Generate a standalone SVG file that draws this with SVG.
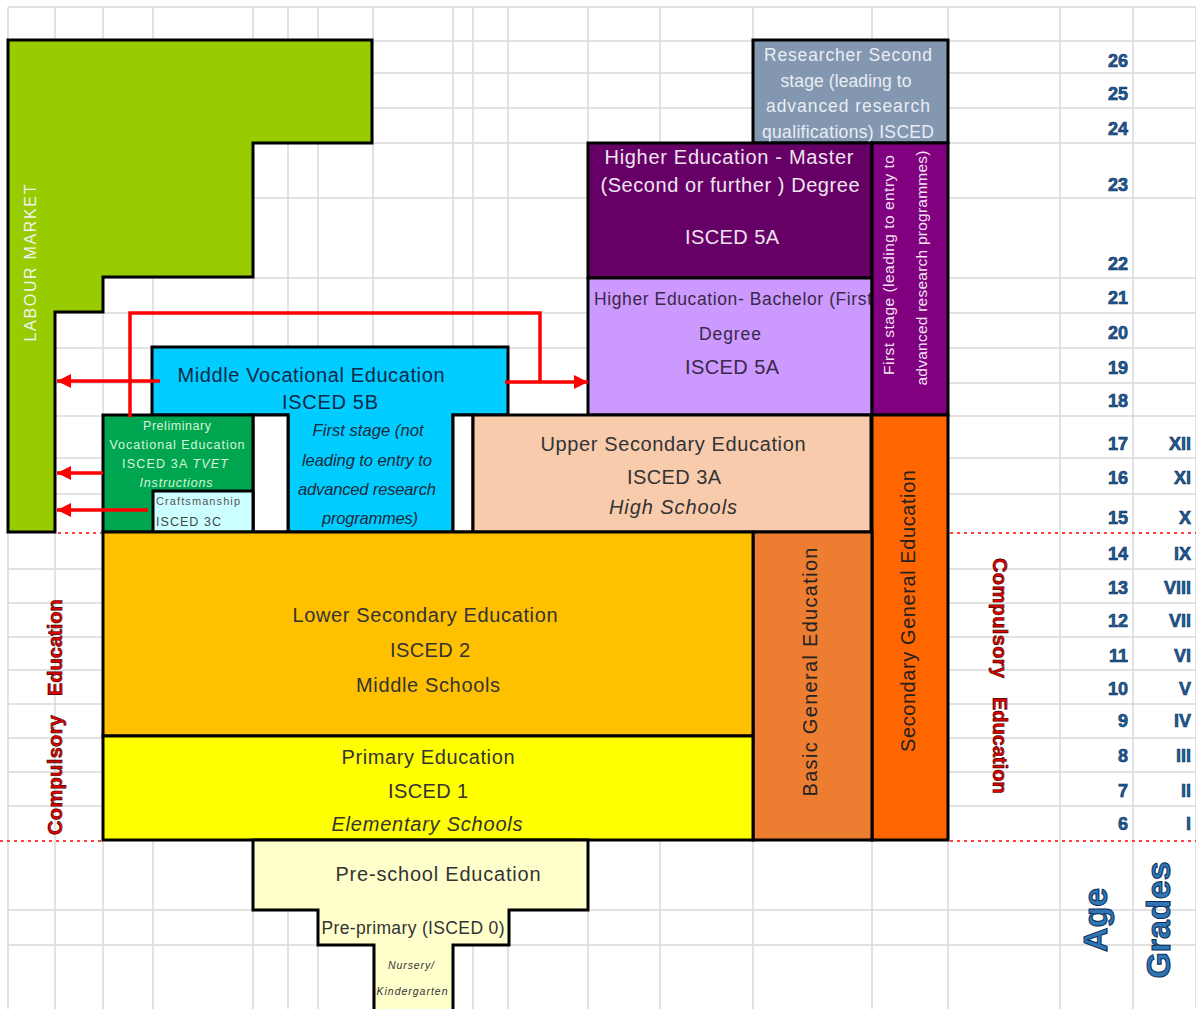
<svg xmlns="http://www.w3.org/2000/svg" width="1196" height="1009" viewBox="0 0 1196 1009">
<style>
.g{stroke:#d9d9d9;stroke-width:1.5}
.bx{stroke:#000;stroke-width:3}
text{font-family:"Liberation Sans",Arial,sans-serif}
.c{text-anchor:middle}
.red{stroke:#ff0000;stroke-width:3.5;fill:none}
.dot{stroke:#ff4040;stroke-width:2;stroke-dasharray:3 4}
.num{font-weight:bold;font-size:18px;fill:#1f5c99;stroke:#0b2d55;stroke-width:0.6;text-anchor:end}
.comp{font-weight:bold;font-size:20px;fill:#e00000;stroke:#400000;stroke-width:0.6}
</style>
<defs>
<marker id="ah" viewBox="0 0 10 10" refX="10" refY="5" markerWidth="16" markerHeight="14" markerUnits="userSpaceOnUse" orient="auto">
<path d="M0,0 L10,5 L0,10 Z" fill="#ff0000"/>
</marker>
<clipPath id="clipR"><rect x="753" y="40" width="195" height="103"/></clipPath>
<clipPath id="clipB"><rect x="588" y="278" width="283" height="137"/></clipPath>
</defs>
<rect width="1196" height="1009" fill="#fff"/>
<g id="grid">
<path class="g" d="M8,7V1009M55,7V1009M103,7V1009M153,7V1009M253,7V1009M288,7V1009M318,7V1009M373,7V1009M453,7V1009M473,7V1009M508,7V1009M588,7V1009M660,7V1009M753,7V1009M872,7V1009M948,7V1009M1060,7V1009M1133,7V1009M1196,7V1009"/>
<path class="g" d="M8,7H1196M8,41H1196M8,73H1196M8,108H1196M8,143H1196M8,198H1196M8,278H1196M8,313H1196M8,348H1196M8,383H1196M8,416H1196M8,458H1196M8,494H1196M8,569H1196M8,603H1196M8,637H1196M8,670H1196M8,704H1196M8,738H1196M8,772H1196M8,806H1196M8,910H1196M8,945H1196"/>
</g>
<g id="labour-market">
<path class="bx" fill="#99cc00" d="M8,40H372V143H253V277H103V312H55V532H8Z"/>
<text transform="translate(36,263) rotate(-90)" class="c" font-size="16" fill="#f2f2f2" textLength="157" lengthAdjust="spacing">LABOUR MARKET</text>
</g>
<g id="researcher">
<rect class="bx" x="753" y="40" width="195" height="103" fill="#8497b0"/>
<g clip-path="url(#clipR)" font-size="17.5" fill="#e8edf5">
<text x="848" y="61" class="c" textLength="168" lengthAdjust="spacing">Researcher Second</text>
<text x="846" y="87" class="c" textLength="131" lengthAdjust="spacing">stage (leading to</text>
<text x="848" y="112" class="c" textLength="164" lengthAdjust="spacing">advanced research</text>
<text x="848" y="138" class="c" textLength="172" lengthAdjust="spacing">qualifications) ISCED</text>
</g>
</g>
<g id="master">
<rect class="bx" x="588" y="143" width="284" height="135" fill="#660066"/>
<text x="729" y="164" class="c" font-size="20" fill="#f0e4f0" textLength="249" lengthAdjust="spacing">Higher Education - Master</text>
<text x="730" y="192" class="c" font-size="20" fill="#f0e4f0" textLength="259" lengthAdjust="spacing">(Second or further ) Degree</text>
<text x="732" y="244" class="c" font-size="20" fill="#f0e4f0" textLength="94" lengthAdjust="spacing">ISCED 5A</text>
</g>
<g id="bachelor">
<rect class="bx" x="588" y="278" width="284" height="137" fill="#cc99ff"/>
<g clip-path="url(#clipB)">
<text x="594" y="305" font-size="17.5" fill="#3a2848" textLength="278" lengthAdjust="spacing">Higher Education- Bachelor (First</text>
</g>
<text x="730" y="340" class="c" font-size="17.5" fill="#3a2848" textLength="62" lengthAdjust="spacing">Degree</text>
<text x="732" y="374" class="c" font-size="20" fill="#3a2848" textLength="94" lengthAdjust="spacing">ISCED 5A</text>
</g>
<g id="first-stage">
<rect class="bx" x="872" y="143" width="76" height="272" fill="#800080"/>
<text transform="translate(894,265) rotate(-90)" class="c" font-size="15.5" fill="#f2e4f2" textLength="220" lengthAdjust="spacing">First stage (leading to entry to</text>
<text transform="translate(927,268) rotate(-90)" class="c" font-size="15.5" fill="#f2e4f2" textLength="235" lengthAdjust="spacing">advanced research programmes)</text>
</g>
<g id="middle-vocational">
<path class="bx" fill="#00ccff" d="M152,347H508V415H453V532H288V415H152Z"/>
<text x="311" y="382" class="c" font-size="20" fill="#0d2a4a" textLength="267" lengthAdjust="spacing">Middle Vocational Education</text>
<text x="330" y="409" class="c" font-size="20" fill="#0d2a4a" textLength="96" lengthAdjust="spacing">ISCED 5B</text>
<g font-size="16.5" font-style="italic" fill="#1a2a3a">
<text x="368" y="436" class="c" textLength="111" lengthAdjust="spacing">First stage (not</text>
<text x="367" y="466" class="c" textLength="130" lengthAdjust="spacing">leading to entry to</text>
<text x="367" y="495" class="c" textLength="138" lengthAdjust="spacing">advanced research</text>
<text x="370" y="524" class="c" textLength="96" lengthAdjust="spacing">programmes)</text>
</g>
</g>
<g id="gap-cells">
<rect class="bx" x="253" y="415" width="35" height="117" fill="#fff"/>
<rect class="bx" x="453" y="415" width="20" height="117" fill="#fff"/>
</g>
<g id="preliminary">
<rect class="bx" x="103" y="415" width="150" height="117" fill="#00a550"/>
<g font-size="12.5" fill="#d8f5d8">
<text x="177" y="430" class="c" textLength="68" lengthAdjust="spacing">Preliminary</text>
<text x="177" y="449" class="c" textLength="135" lengthAdjust="spacing">Vocational Education</text>
<text x="175" y="468" class="c" textLength="106" lengthAdjust="spacing">ISCED 3A <tspan font-style="italic">TVET</tspan></text>
<text x="176" y="487" class="c" font-style="italic" textLength="73" lengthAdjust="spacing">Instructions</text>
</g>
</g>
<g id="craftsmanship">
<rect class="bx" x="153" y="491" width="100" height="41" fill="#ccffff"/>
<text x="156" y="505" font-size="11" fill="#555" textLength="84" lengthAdjust="spacing">Craftsmanship</text>
<text x="156" y="526" font-size="12.5" fill="#444" textLength="65" lengthAdjust="spacing">ISCED 3C</text>
</g>
<g id="upper-secondary">
<rect class="bx" x="473" y="415" width="398" height="117" fill="#f8cbad"/>
<text x="673" y="451" class="c" font-size="20" fill="#333" textLength="265" lengthAdjust="spacing">Upper Secondary Education</text>
<text x="674" y="484" class="c" font-size="20" fill="#333" textLength="94" lengthAdjust="spacing">ISCED 3A</text>
<text x="673" y="514" class="c" font-size="20" font-style="italic" fill="#333" textLength="128" lengthAdjust="spacing">High Schools</text>
</g>
<g id="secondary-general">
<rect class="bx" x="872" y="415" width="76" height="425" fill="#ff6600"/>
<text transform="translate(915,611) rotate(-90)" class="c" font-size="20" fill="#222" textLength="282" lengthAdjust="spacing">Secondary General Education</text>
</g>
<g id="basic-general">
<rect class="bx" x="753" y="532" width="119" height="308" fill="#ed7d31"/>
<text transform="translate(817,672) rotate(-90)" class="c" font-size="20" fill="#222" textLength="249" lengthAdjust="spacing">Basic General Education</text>
</g>
<g id="lower-secondary">
<rect class="bx" x="103" y="532" width="650" height="204" fill="#ffc000"/>
<text x="425" y="622" class="c" font-size="20" fill="#333" textLength="265" lengthAdjust="spacing">Lower Secondary Education</text>
<text x="430" y="657" class="c" font-size="20" fill="#333" textLength="80" lengthAdjust="spacing">ISCED 2</text>
<text x="428" y="692" class="c" font-size="20" fill="#333" textLength="144" lengthAdjust="spacing">Middle Schools</text>
</g>
<g id="primary">
<rect class="bx" x="103" y="736" width="650" height="104" fill="#ffff00"/>
<text x="428" y="764" class="c" font-size="20" fill="#333" textLength="173" lengthAdjust="spacing">Primary Education</text>
<text x="428" y="798" class="c" font-size="20" fill="#333" textLength="80" lengthAdjust="spacing">ISCED 1</text>
<text x="427" y="831" class="c" font-size="20" font-style="italic" fill="#333" textLength="191" lengthAdjust="spacing">Elementary Schools</text>
</g>
<g id="pre-school">
<path class="bx" fill="#ffffcc" d="M253,840H588V910H509V945H453V1012H374V945H318V910H253Z"/>
<text x="438" y="881" class="c" font-size="20" fill="#333" textLength="205" lengthAdjust="spacing">Pre-school Education</text>
<text x="413" y="934" class="c" font-size="17.5" fill="#333" textLength="183" lengthAdjust="spacing">Pre-primary (ISCED 0)</text>
<text x="411" y="969" class="c" font-size="10.5" font-style="italic" fill="#333" textLength="46" lengthAdjust="spacing">Nursery/</text>
<text x="412" y="995" class="c" font-size="10.5" font-style="italic" fill="#333" textLength="71" lengthAdjust="spacing">Kindergarten</text>
</g>
<g id="connectors">
<line class="red" x1="160" y1="381" x2="57" y2="381" marker-end="url(#ah)"/>
<line class="red" x1="103" y1="473" x2="57" y2="473" marker-end="url(#ah)"/>
<line class="red" x1="148" y1="510" x2="57" y2="510" marker-end="url(#ah)"/>
<polyline class="red" points="130,417 130,313 540,313 540,382"/>
<line class="red" x1="505" y1="382" x2="588" y2="382" marker-end="url(#ah)"/>
<path class="dot" d="M58,533H101M950,533H1196M0,841H101M950,841H1196"/>
</g>
<g id="compulsory-left">
<text transform="translate(62,835) rotate(-90)" class="comp" textLength="120" lengthAdjust="spacing">Compulsory</text>
<text transform="translate(62,696) rotate(-90)" class="comp">Education</text>
</g>
<g id="compulsory-right">
<text transform="translate(993,558) rotate(90)" class="comp" textLength="120" lengthAdjust="spacing">Compulsory</text>
<text transform="translate(993,697) rotate(90)" class="comp">Education</text>
</g>
<g id="ages">
<text x="1128" y="67" class="num">26</text>
<text x="1128" y="100" class="num">25</text>
<text x="1128" y="135" class="num">24</text>
<text x="1128" y="191" class="num">23</text>
<text x="1128" y="270" class="num">22</text>
<text x="1128" y="304" class="num">21</text>
<text x="1128" y="339" class="num">20</text>
<text x="1128" y="374" class="num">19</text>
<text x="1128" y="407" class="num">18</text>
<text x="1128" y="450" class="num">17</text>
<text x="1128" y="484" class="num">16</text>
<text x="1128" y="524" class="num">15</text>
<text x="1128" y="560" class="num">14</text>
<text x="1128" y="594" class="num">13</text>
<text x="1128" y="627" class="num">12</text>
<text x="1128" y="662" class="num">11</text>
<text x="1128" y="695" class="num">10</text>
<text x="1128" y="727" class="num">9</text>
<text x="1128" y="762" class="num">8</text>
<text x="1128" y="797" class="num">7</text>
<text x="1128" y="830" class="num">6</text>
</g>
<g id="grades">
<text x="1191" y="450" class="num">XII</text>
<text x="1191" y="484" class="num">XI</text>
<text x="1191" y="524" class="num">X</text>
<text x="1191" y="560" class="num">IX</text>
<text x="1191" y="594" class="num">VIII</text>
<text x="1191" y="627" class="num">VII</text>
<text x="1191" y="662" class="num">VI</text>
<text x="1191" y="695" class="num">V</text>
<text x="1191" y="727" class="num">IV</text>
<text x="1191" y="762" class="num">III</text>
<text x="1191" y="797" class="num">II</text>
<text x="1191" y="830" class="num">I</text>
</g>
<g id="axis-labels">
<text transform="translate(1107,920) rotate(-90)" class="c" font-size="34" font-weight="bold" fill="#2e75b6" stroke="#0b2d55" stroke-width="1">Age</text>
<text transform="translate(1170,920) rotate(-90)" class="c" font-size="34" font-weight="bold" fill="#2e75b6" stroke="#0b2d55" stroke-width="1">Grades</text>
</g>
</svg>
